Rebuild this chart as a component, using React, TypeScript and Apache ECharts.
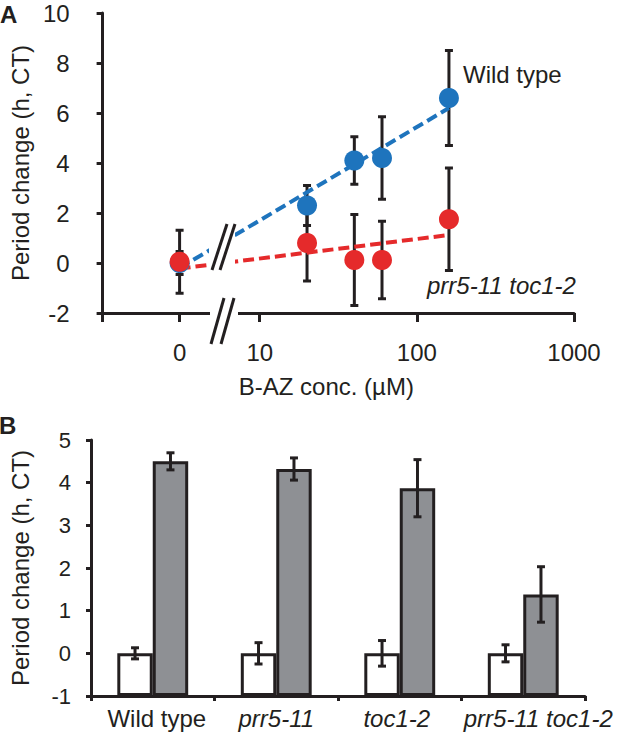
import React, { useEffect, useRef } from 'react';
import * as echarts from 'echarts';

const FONT = '"Liberation Sans", Arial, Helvetica, sans-serif';
const INK = '#231f20';
const BLUE = '#1e74bd';
const RED = '#e52a2b';
const GRAY = '#8e9094';

// ---------- Panel A data ----------
const concentrations = [0, 20, 40, 60, 160];
const wildTypeMean = [0, 2.3, 4.1, 4.2, 6.6];
const wildTypeErr = [0.46, 0.8, 0.95, 1.65, 1.9];
const doubleMean = [0.05, 0.8, 0.12, 0.12, 1.75];
const doubleErr = [1.26, 1.52, 1.82, 1.55, 2.05];
const wildTypeTrend = [[0, -0.2], [160, 6.2]];
const doubleTrend = [[0, -0.22], [160, 1.12]];
const xTickConc = [0, 10, 100, 1000];
const xTickLabels = ['0', '10', '100', '1000'];
const yTicksA = { min: -2, max: 10, interval: 2 };
const ZERO_POS = 0.49; // where "0" sits on the broken log axis

// ---------- Panel B data ----------
const genotypes = ['Wild type', 'prr5-11', 'toc1-2', 'prr5-11 toc1-2'];
const controlMean = [0, 0, 0, 0];
const controlErr = [0.13, 0.25, 0.3, 0.2];
const treatedMean = [4.5, 4.32, 3.87, 1.38];
const treatedErr = [0.2, 0.26, 0.67, 0.65];
const yTicksB = { min: -1, max: 5, interval: 1 };

const BAR_FRAC = 0.287;

const pos = (c: number) => (c === 0 ? ZERO_POS : Math.log10(c));

function errBarsA(api: any) {
  const x = api.value(0);
  const y = api.value(1);
  const e = api.value(2);
  const top = api.coord([x, y + e]);
  const bot = api.coord([x, y - e]);
  const cap = 4;
  const st = { stroke: INK, lineWidth: 3 };
  return {
    type: 'group',
    children: [
      { type: 'line', shape: { x1: top[0], y1: top[1], x2: bot[0], y2: bot[1] }, style: st },
      { type: 'line', shape: { x1: top[0] - cap, y1: top[1], x2: top[0] + cap, y2: top[1] }, style: st },
      { type: 'line', shape: { x1: bot[0] - cap, y1: bot[1], x2: bot[0] + cap, y2: bot[1] }, style: st },
    ],
  };
}

function errBarsB(params: any, api: any) {
  const idx = api.value(0);
  const y = api.value(1);
  const e = api.value(2);
  const side = api.value(3);
  const cw = api.size([1, 0])[0];
  const dx = (side * cw * BAR_FRAC) / 2;
  const top = api.coord([idx, y + e]);
  const bot = api.coord([idx, y - e]);
  const x = top[0] + dx;
  const cap = 4;
  const st = { stroke: INK, lineWidth: 3 };
  return {
    type: 'group',
    children: [
      { type: 'line', shape: { x1: x, y1: top[1], x2: x, y2: bot[1] }, style: st },
      { type: 'line', shape: { x1: x - cap, y1: top[1], x2: x + cap, y2: top[1] }, style: st },
      { type: 'line', shape: { x1: x - cap, y1: bot[1], x2: x + cap, y2: bot[1] }, style: st },
    ],
  };
}

export default function App() {
  const ref = useRef<HTMLDivElement>(null);

  useEffect(() => {
    if (!ref.current) return;
    const chart = echarts.init(ref.current, null, { renderer: 'svg' });

    const tickPositions = xTickConc.map(pos);
    const labelFor = (v: number) => {
      const i = tickPositions.findIndex((p) => Math.abs(p - v) < 1e-6);
      return i >= 0 ? xTickLabels[i] : '';
    };

    const txt = { color: INK, fontFamily: FONT };

    const option: any = {
      animation: false,
      backgroundColor: '#fff',
      textStyle: { fontFamily: FONT, color: INK },
      grid: [
        { left: 90, top: 13, width: 484, height: 300 },
        { left: 83, top: 440, width: 502, height: 256 },
      ],
      xAxis: [
        {
          type: 'value',
          gridIndex: 0,
          min: 0,
          max: 3,
          axisLine: { show: true, onZero: false, lineStyle: { color: INK, width: 3 } },
          axisTick: { show: true, customValues: [0, ...tickPositions], length: 9, lineStyle: { color: INK, width: 3 } },
          axisLabel: { customValues: tickPositions, formatter: labelFor, margin: 27, fontSize: 24, ...txt },
          splitLine: { show: false },
          name: 'B-AZ conc. (\u00b5M)',
          nameLocation: 'middle',
          nameGap: 61,
          nameTextStyle: { fontSize: 24, padding: [0, 24, 0, 0], ...txt },
        },
        {
          type: 'category',
          gridIndex: 1,
          data: genotypes,
          axisLine: { show: true, onZero: false, lineStyle: { color: INK, width: 3 } },
          axisTick: { show: true, alignWithLabel: false, interval: 0, length: 5, lineStyle: { color: INK, width: 3 } },
          axisLabel: {
            interval: 0,
            margin: 10,
            fontSize: 24,
            ...txt,
            formatter: (v: string, i: number) =>
              i === 0 ? `{n|${v}}` : i === 3 ? `{il|${v}}` : i === 2 ? `{ir|${v}}` : `{i|${v}}`,
            rich: {
              n: { fontSize: 24, fontFamily: FONT, color: INK, padding: [0, 0, 0, 8] },
              i: { fontSize: 24, fontFamily: FONT, color: INK, fontStyle: 'italic' },
              ir: { fontSize: 24, fontFamily: FONT, color: INK, fontStyle: 'italic', padding: [0, 6, 0, 0] },
              il: { fontSize: 24, fontFamily: FONT, color: INK, fontStyle: 'italic', padding: [0, 0, 0, 30] },
            },
          },
          splitLine: { show: false },
        },
      ],
      yAxis: [
        {
          type: 'value',
          gridIndex: 0,
          ...yTicksA,
          axisLine: { show: true, lineStyle: { color: INK, width: 3 } },
          axisTick: { show: true, length: 6, lineStyle: { color: INK, width: 3 } },
          axisLabel: { margin: 33, fontSize: 24, ...txt },
          splitLine: { show: false },
          name: 'Period change (h, CT)',
          nameLocation: 'middle',
          nameGap: 66,
          nameTextStyle: { fontSize: 24, ...txt },
        },
        {
          type: 'value',
          gridIndex: 1,
          ...yTicksB,
          startValue: -1,
          axisLine: { show: true, lineStyle: { color: INK, width: 3 } },
          axisTick: { show: true, length: 5, lineStyle: { color: INK, width: 3 } },
          axisLabel: { margin: 20, fontSize: 22, ...txt },
          splitLine: { show: false },
          name: 'Period change (h, CT)',
          nameLocation: 'middle',
          nameGap: 59,
          nameTextStyle: { fontSize: 24, ...txt },
        },
      ],
      series: [
        {
          type: 'custom',
          name: 'err-double',
          xAxisIndex: 0,
          yAxisIndex: 0,
          z: 1,
          clip: false,
          encode: { x: 0, y: 1 },
          data: concentrations.map((c, i) => [pos(c), doubleMean[i], doubleErr[i]]),
          renderItem: (p: any, api: any) => errBarsA(api),
        },
        {
          type: 'custom',
          name: 'err-wt',
          xAxisIndex: 0,
          yAxisIndex: 0,
          z: 1,
          clip: false,
          encode: { x: 0, y: 1 },
          data: concentrations.map((c, i) => [pos(c), wildTypeMean[i], wildTypeErr[i]]),
          renderItem: (p: any, api: any) => errBarsA(api),
        },
        {
          type: 'line',
          name: 'trend-wt',
          xAxisIndex: 0,
          yAxisIndex: 0,
          z: 2,
          showSymbol: false,
          data: wildTypeTrend.map(([c, v]) => [pos(c), v]),
          lineStyle: { color: BLUE, width: 4, type: [11, 5] },
        },
        {
          type: 'line',
          name: 'trend-double',
          xAxisIndex: 0,
          yAxisIndex: 0,
          z: 2,
          showSymbol: false,
          data: doubleTrend.map(([c, v]) => [pos(c), v]),
          lineStyle: { color: RED, width: 4, type: [11, 5] },
        },
        {
          type: 'scatter',
          name: 'Wild type',
          xAxisIndex: 0,
          yAxisIndex: 0,
          z: 3,
          symbolSize: 20,
          itemStyle: { color: BLUE, opacity: 1 },
          data: concentrations.map((c, i) => [pos(c), wildTypeMean[i]]),
        },
        {
          type: 'scatter',
          name: 'prr5-11 toc1-2',
          xAxisIndex: 0,
          yAxisIndex: 0,
          z: 4,
          symbolSize: 20,
          itemStyle: { color: RED, opacity: 1 },
          data: concentrations.map((c, i) => [pos(c), doubleMean[i]]),
        },
        {
          type: 'bar',
          name: 'control',
          xAxisIndex: 1,
          yAxisIndex: 1,
          barWidth: `${BAR_FRAC * 100}%`,
          barGap: '0%',
          itemStyle: { color: '#ffffff', borderColor: INK, borderWidth: 3 },
          data: controlMean,
        },
        {
          type: 'bar',
          name: 'B-AZ',
          xAxisIndex: 1,
          yAxisIndex: 1,
          barWidth: `${BAR_FRAC * 100}%`,
          barGap: '0%',
          itemStyle: { color: GRAY, borderColor: INK, borderWidth: 3 },
          data: treatedMean,
        },
        {
          type: 'custom',
          name: 'err-B',
          xAxisIndex: 1,
          yAxisIndex: 1,
          z: 5,
          clip: false,
          encode: { x: 0, y: 1 },
          data: [
            ...controlMean.map((m, i) => [i, m, controlErr[i], -1]),
            ...treatedMean.map((m, i) => [i, m, treatedErr[i], 1]),
          ],
          renderItem: errBarsB,
        },
      ],
      graphic: [
        { type: 'text', x: 0, y: 14, z: 100, style: { text: 'A', fontSize: 24, fontWeight: 'bold', fontFamily: FONT, fill: INK, verticalAlign: 'middle' } },
        { type: 'text', x: -1, y: 425, z: 100, style: { text: 'B', fontSize: 24, fontWeight: 'bold', fontFamily: FONT, fill: INK, verticalAlign: 'middle' } },
        { type: 'text', x: 463, y: 74, z: 100, style: { text: 'Wild type', fontSize: 24, fontFamily: FONT, fill: INK, verticalAlign: 'middle' } },
        { type: 'text', x: 427, y: 285, z: 100, style: { text: 'prr5-11 toc1-2', fontSize: 24, fontStyle: 'italic', fontFamily: FONT, fill: INK, verticalAlign: 'middle' } },
        // axis break
        { type: 'rect', z: 100, shape: { x: 210, y: 307, width: 28, height: 12 }, style: { fill: '#fff' } },
        { type: 'line', z: 101, shape: { x1: 224, y1: 298, x2: 211, y2: 344 }, style: { stroke: INK, lineWidth: 3 } },
        { type: 'line', z: 101, shape: { x1: 234, y1: 298, x2: 221, y2: 344 }, style: { stroke: INK, lineWidth: 3 } },
        // break in the trend lines
        { type: 'rect', z: 100, shape: { x: 209, y: 220, width: 26, height: 56 }, style: { fill: '#fff' } },
        { type: 'line', z: 101, shape: { x1: 227, y1: 224, x2: 212, y2: 270 }, style: { stroke: INK, lineWidth: 3 } },
        { type: 'line', z: 101, shape: { x1: 235, y1: 224, x2: 220, y2: 270 }, style: { stroke: INK, lineWidth: 3 } },
      ],
    };

    chart.setOption(option);
    return () => chart.dispose();
  }, []);

  return <div ref={ref} style={{ width: 618, height: 736, position: 'absolute', left: 0, top: 0 }} />;
}
